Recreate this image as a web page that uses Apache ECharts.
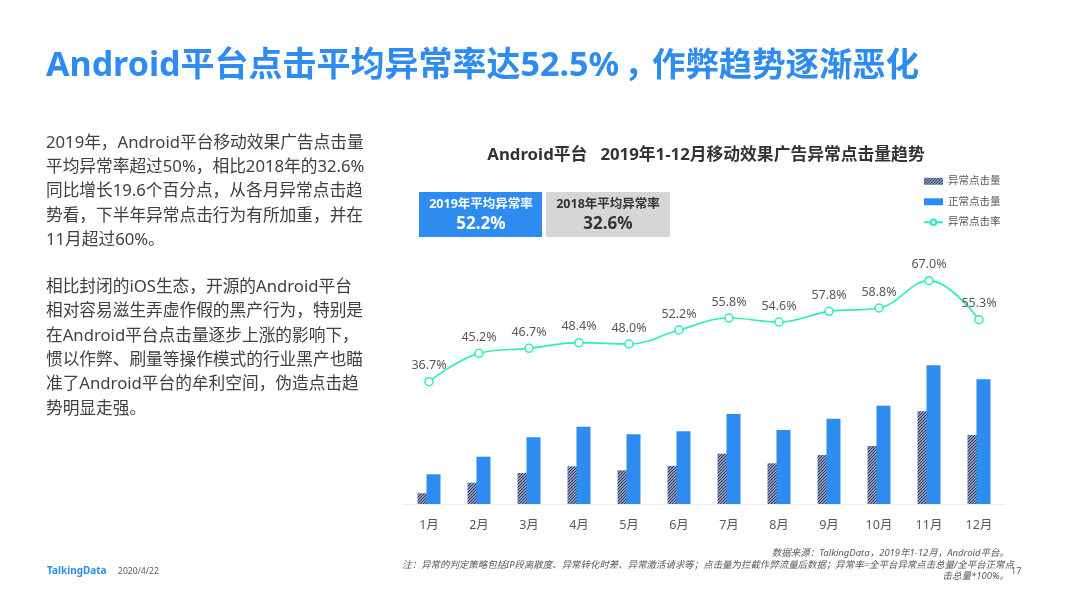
<!DOCTYPE html>
<html>
<head>
<meta charset="utf-8">
<style>
  html, body { margin: 0; padding: 0; background: #fff; }
  #main { width: 1066px; height: 599px; }
</style>
<script src="https://cdn.jsdelivr.net/npm/echarts@6/dist/echarts.min.js"></script>
</head>
<body>
<div id="main"></div>
<script>
const months = ["1月", "2月", "3月", "4月", "5月", "6月", "7月", "8月", "9月", "10月", "11月", "12月"];
const abnormalClicks = [10.7, 21.3, 31, 37.7, 33.7, 38, 50.3, 40.7, 49, 58, 92.7, 69];
const normalClicks = [29.7, 47.3, 66.7, 77.3, 69.7, 72.7, 90, 74, 85.3, 98.3, 138.7, 124.7];
const abnormalRate = [36.7, 45.2, 46.7, 48.4, 48.0, 52.2, 55.8, 54.6, 57.8, 58.8, 67.0, 55.3];

const paragraphOne = [
  "2019年，Android平台移动效果广告点击量",
  "平均异常率超过50%，相比2018年的32.6%",
  "同比增长19.6个百分点，从各月异常点击趋",
  "势看，下半年异常点击行为有所加重，并在",
  "11月超过60%。"
];
const paragraphTwo = [
  "相比封闭的iOS生态，开源的Android平台",
  "相对容易滋生弄虚作假的黑产行为，特别是",
  "在Android平台点击量逐步上涨的影响下，",
  "惯以作弊、刷量等操作模式的行业黑产也瞄",
  "准了Android平台的牟利空间，伪造点击趋",
  "势明显走强。"
];

const FONT = '"Noto Sans", "Noto Sans CJK SC", sans-serif';
const BLUE = "#2e8cf0";
const GREEN = "#2eedb8";

// dark diagonal hatch for the abnormal bars
function hatch() {
  const c = document.createElement("canvas");
  c.width = 3;
  c.height = 3;
  const ctx = c.getContext("2d");
  ctx.fillStyle = "#b9c0d3";
  ctx.fillRect(0, 0, 3, 3);
  ctx.strokeStyle = "#1f3267";
  ctx.lineWidth = 1.1;
  ctx.beginPath();
  ctx.moveTo(-1, 4); ctx.lineTo(4, -1);
  ctx.moveTo(-1, 1); ctx.lineTo(1, -1);
  ctx.moveTo(2, 4); ctx.lineTo(4, 2);
  ctx.stroke();
  return c;
}

function text(x, y, str, size, color, extra) {
  return {
    type: "text",
    x: x,
    y: y,
    silent: true,
    style: Object.assign({
      text: str,
      fontFamily: FONT,
      fontSize: size,
      fill: color,
      verticalAlign: "middle"
    }, extra || {})
  };
}

const graphics = [
  text(46, 66, "Android平台点击平均异常率达52.5%", 34, BLUE, { fontWeight: "bold" }),
  text(624, 66, "，", 34, BLUE, { fontWeight: "bold" }),
  text(652, 66, "作弊趋势逐渐恶化", 33.4, BLUE, { fontWeight: "bold" }),
  text(706, 155, "Android平台   2019年1-12月移动效果广告异常点击量趋势", 16.8, "#333333", { fontWeight: "bold", align: "center" }),
  { type: "rect", shape: { x: 419, y: 192, width: 123, height: 45 }, style: { fill: BLUE }, silent: true },
  { type: "rect", shape: { x: 546, y: 192, width: 124, height: 45 }, style: { fill: "#d6d6d6" }, silent: true },
  text(481, 204, "2019年平均异常率", 12.5, "#ffffff", { fontWeight: "bold", align: "center" }),
  text(481, 224, "52.2%", 17, "#ffffff", { fontWeight: "bold", align: "center" }),
  text(608, 204, "2018年平均异常率", 12.5, "#333333", { fontWeight: "bold", align: "center" }),
  text(608, 224, "32.6%", 17, "#333333", { fontWeight: "bold", align: "center" }),
  text(47, 571, "TalkingData", 10, BLUE, { fontWeight: "bold" }),
  text(118, 572, "2020/4/22", 8.6, "#595959"),
  text(1009, 553, "数据来源：TalkingData，2019年1-12月，Android平台。", 9.5, "#595959", { fontStyle: "italic", align: "right" }),
  text(1014, 565, "注：异常的判定策略包括IP段离散度、异常转化时差、异常激活请求等；点击量为拦截作弊流量后数据；异常率=全平台异常点击总量/全平台正常点", 9.45, "#595959", { fontStyle: "italic", align: "right" }),
  text(1009, 576, "击总量*100%。", 9.5, "#595959", { fontStyle: "italic", align: "right" }),
  text(1011, 571, "17", 9, "#595959")
];
paragraphOne.forEach((line, i) => graphics.push(text(46, 143 + i * 24.25, line, 16.7, "#404040")));
paragraphTwo.forEach((line, i) => graphics.push(text(46, 287 + i * 24.4, line, 16.7, "#404040")));

const chart = echarts.init(document.getElementById("main"));
chart.setOption({
  animation: false,
  backgroundColor: "#ffffff",
  textStyle: { fontFamily: FONT },
  graphic: graphics,
  legend: {
    orient: "vertical",
    left: 918,
    top: 171,
    itemGap: 10,
    itemWidth: 19,
    itemHeight: 7,
    textStyle: { fontSize: 10.5, color: "#595959", fontFamily: FONT },
    data: [
      { name: "异常点击量", icon: "rect" },
      { name: "正常点击量", icon: "rect" },
      { name: "异常点击率" }
    ]
  },
  grid: { left: 404, top: 254, width: 600, height: 250 },
  xAxis: {
    type: "category",
    data: months,
    axisTick: { show: false },
    axisLine: { lineStyle: { color: "#eeeeee" } },
    axisLabel: { fontSize: 12.5, color: "#595959", margin: 15, fontFamily: FONT }
  },
  yAxis: [
    { type: "value", min: 0, max: 250, show: false },
    { type: "value", min: 0, max: 75, show: false }
  ],
  series: [
    {
      name: "异常点击量",
      type: "bar",
      data: abnormalClicks,
      barWidth: 14,
      barGap: "-36%",
      itemStyle: { color: { image: hatch(), repeat: "repeat" } }
    },
    {
      name: "正常点击量",
      type: "bar",
      data: normalClicks,
      barWidth: 14,
      itemStyle: { color: BLUE }
    },
    {
      name: "异常点击率",
      type: "line",
      yAxisIndex: 1,
      data: abnormalRate,
      smooth: 0.4,
      symbol: "circle",
      symbolSize: 8,
      lineStyle: { color: GREEN, width: 1.7 },
      itemStyle: { color: "#ffffff", borderColor: GREEN, borderWidth: 1.5 },
      label: {
        show: true,
        position: "top",
        distance: 5,
        fontSize: 12.5,
        color: "#595959",
        fontFamily: FONT,
        formatter: p => p.value.toFixed(1) + "%"
      }
    }
  ]
});
</script>
</body>
</html>
